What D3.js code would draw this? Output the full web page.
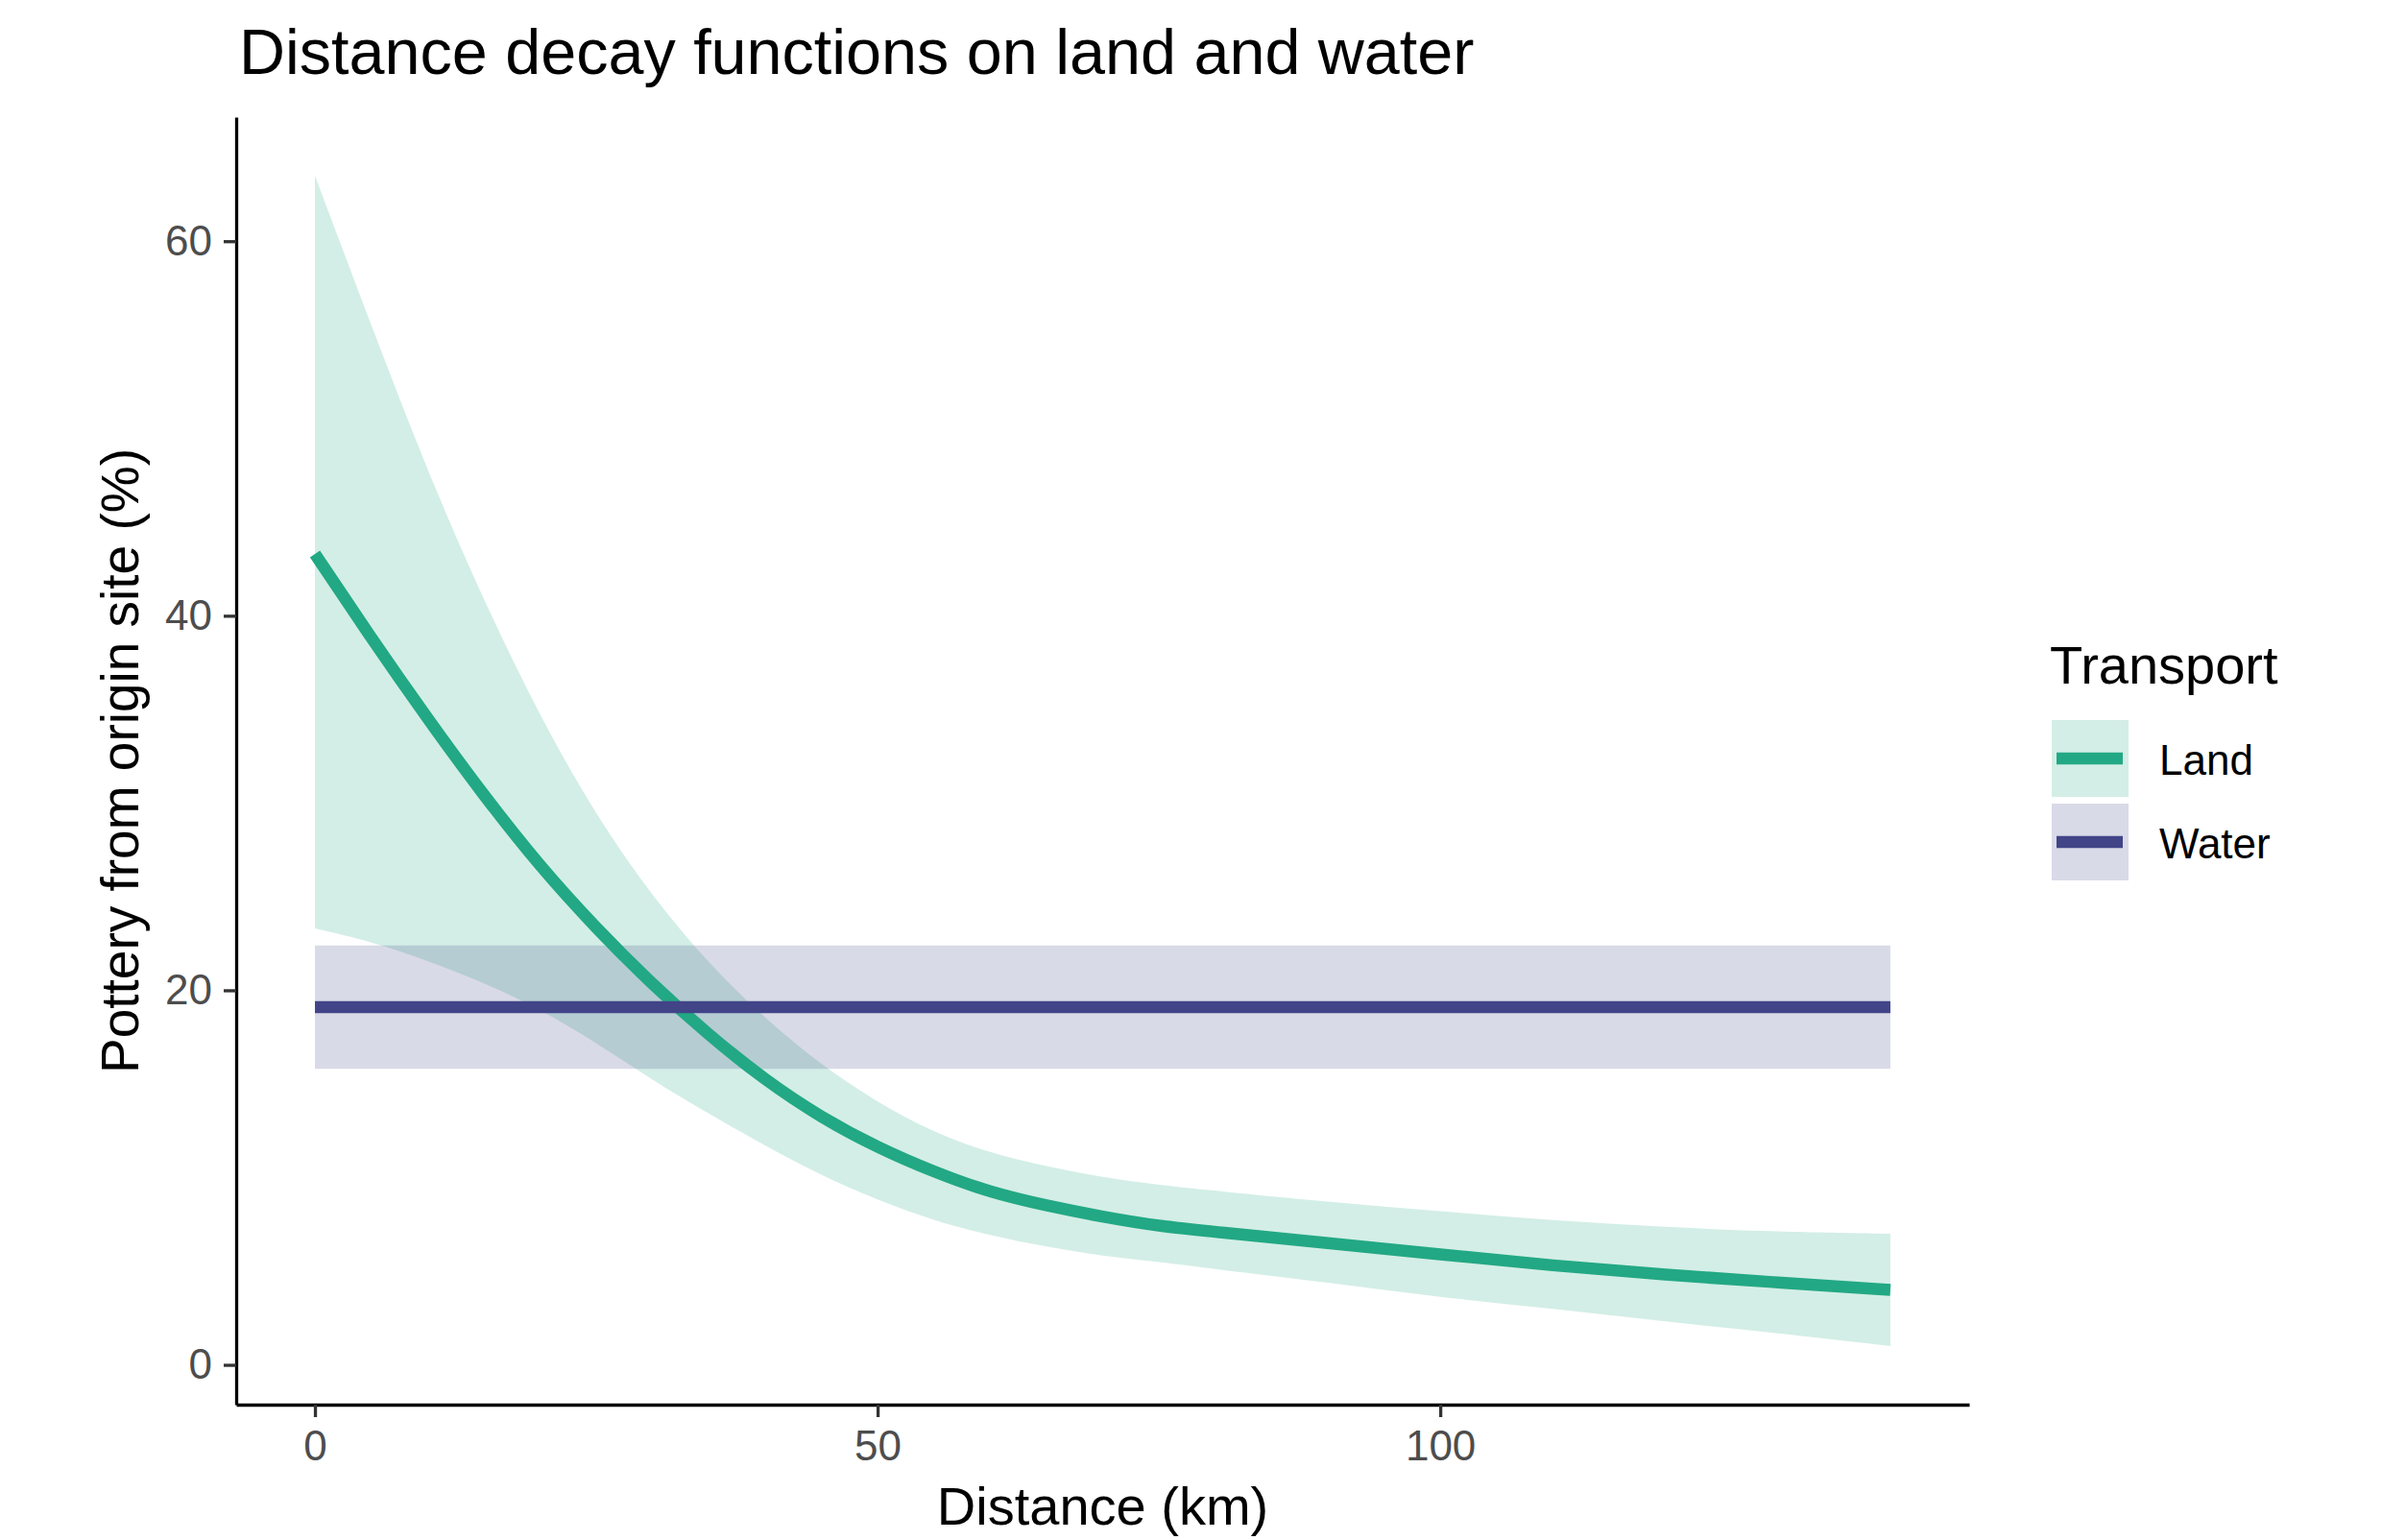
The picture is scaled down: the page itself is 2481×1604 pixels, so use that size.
<!DOCTYPE html>
<html>
<head>
<meta charset="utf-8">
<script src="https://cdn.jsdelivr.net/npm/d3@7"></script>
<style>
  body { margin: 0; background: #fff; }
  svg text { font-family: "Liberation Sans", Arial, sans-serif; }
</style>
</head>
<body>
<div id="chart"></div>
<script>
// values
const landDist  = [0, 5, 10, 15, 20, 25, 30, 35, 40, 45, 50, 55, 60, 65, 70, 75, 80, 90, 100, 110, 120, 130, 140]
const landFit   = [43.3, 38.8, 34.5, 30.4, 26.6, 23.3, 20.3, 17.6, 15.2, 13.2, 11.6, 10.3, 9.2, 8.5, 7.9, 7.4, 7.1, 6.5, 5.9, 5.3, 4.8, 4.4, 4.0]
const landUpper = [63.5, 55.5, 47.7, 40.8, 34.6, 29.3, 25.0, 21.4, 18.5, 16.0, 14.0, 12.4, 11.3, 10.6, 10.0, 9.6, 9.3, 8.7, 8.2, 7.7, 7.35, 7.1, 7.0]
const landLower = [23.3, 22.6, 21.6, 20.4, 19.0, 17.2, 15.2, 13.4, 11.7, 10.1, 8.8, 7.7, 6.9, 6.3, 5.8, 5.5, 5.1, 4.4, 3.6, 3.0, 2.3, 1.7, 1.0]

const waterDist  = [0, 140]
const waterFit   = [19.1, 19.1]
const waterUpper = [22.4, 22.4]
const waterLower = [15.8, 15.8]

const transport = ["Land", "Water"]
const lineColors = ["#22A884", "#414487"]
const xTicks = [0, 50, 100]
const yTicks = [0, 20, 40, 60]

const width = 2481
const height = 1604
const panel = { left: 246, right: 2051, top: 122, bottom: 1463 }

const series = [
  { name: "Land", color: lineColors[0],
    rows: landDist.map((d, i) => ({ x: d, fit: landFit[i], lo: landLower[i], hi: landUpper[i] })) },
  { name: "Water", color: lineColors[1],
    rows: waterDist.map((d, i) => ({ x: d, fit: waterFit[i], lo: waterLower[i], hi: waterUpper[i] })) }
]

// ggplot-ish 5% expansion
function expand(ext) {
  const pad = (ext[1] - ext[0]) * 0.05
  return [ext[0] - pad, ext[1] + pad]
}
const allRows = series.flatMap(s => s.rows)
const xScale = d3.scaleLinear()
  .domain(expand(d3.extent(allRows, d => d.x)))
  .range([panel.left, panel.right])
const yScale = d3.scaleLinear()
  .domain(expand([d3.min(allRows, d => d.lo), d3.max(allRows, d => d.hi)]))
  .range([panel.bottom, panel.top])

const svg = d3.select("#chart").append("svg")
  .attr("width", width)
  .attr("height", height)

// ribbons
const area = d3.area()
  .x(d => xScale(d.x))
  .y0(d => yScale(d.lo))
  .y1(d => yScale(d.hi))
  .curve(d3.curveBasis)

svg.append("g").selectAll("path")
  .data(series)
  .join("path")
  .attr("d", d => area(d.rows))
  .attr("fill", d => d.color)
  .attr("fill-opacity", 0.2)

// fitted lines
const line = d3.line()
  .x(d => xScale(d.x))
  .y(d => yScale(d.fit))
  .curve(d3.curveBasis)

svg.append("g").selectAll("path")
  .data(series)
  .join("path")
  .attr("d", d => line(d.rows))
  .attr("fill", "none")
  .attr("stroke", d => d.color)
  .attr("stroke-width", 12.5)
  .attr("stroke-linecap", "butt")

// axes
const xAxis = svg.append("g")
  .attr("transform", `translate(0,${panel.bottom})`)
  .call(d3.axisBottom(xScale).tickValues(xTicks).tickSize(13).tickSizeOuter(0).tickPadding(14))
const yAxis = svg.append("g")
  .attr("transform", `translate(${panel.left},0)`)
  .call(d3.axisLeft(yScale).tickValues(yTicks).tickSize(13).tickSizeOuter(0).tickPadding(12))

for (const ax of [xAxis, yAxis]) {
  ax.select(".domain").attr("stroke", "#000").attr("stroke-width", 3.3)
  ax.selectAll(".tick line").attr("stroke", "#333333").attr("stroke-width", 3.3)
  ax.selectAll(".tick text")
    .attr("fill", "#4D4D4D")
    .style("font-size", "44px")
    .style("font-family", "'Liberation Sans', Arial, sans-serif")
}

// titles
svg.append("text")
  .attr("x", 249)
  .attr("y", 77)
  .attr("font-size", 66.5)
  .attr("fill", "#000")
  .text("Distance decay functions on land and water")

svg.append("text")
  .attr("x", (panel.left + panel.right) / 2)
  .attr("y", 1588)
  .attr("text-anchor", "middle")
  .attr("font-size", 56)
  .text("Distance (km)")

svg.append("text")
  .attr("transform", `translate(144,${(panel.top + panel.bottom) / 2}) rotate(-90)`)
  .attr("text-anchor", "middle")
  .attr("font-size", 55)
  .text("Pottery from origin site (%)")

// legend
const legend = svg.append("g").attr("transform", "translate(2137,750)")
legend.append("text")
  .attr("x", -2)
  .attr("y", -38)
  .attr("font-size", 56)
  .text("Transport")

const key = legend.selectAll("g.key")
  .data(series)
  .join("g")
  .attr("class", "key")
  .attr("transform", (d, i) => `translate(0,${i * 87})`)

key.append("rect")
  .attr("width", 80)
  .attr("height", 80)
  .attr("fill", d => d.color)
  .attr("fill-opacity", 0.2)
key.append("line")
  .attr("x1", 5).attr("x2", 74)
  .attr("y1", 40).attr("y2", 40)
  .attr("stroke", d => d.color)
  .attr("stroke-width", 12.5)
key.append("text")
  .attr("x", 112)
  .attr("y", 57)
  .attr("font-size", 44)
  .text((d, i) => transport[i])
</script>
</body>
</html>
